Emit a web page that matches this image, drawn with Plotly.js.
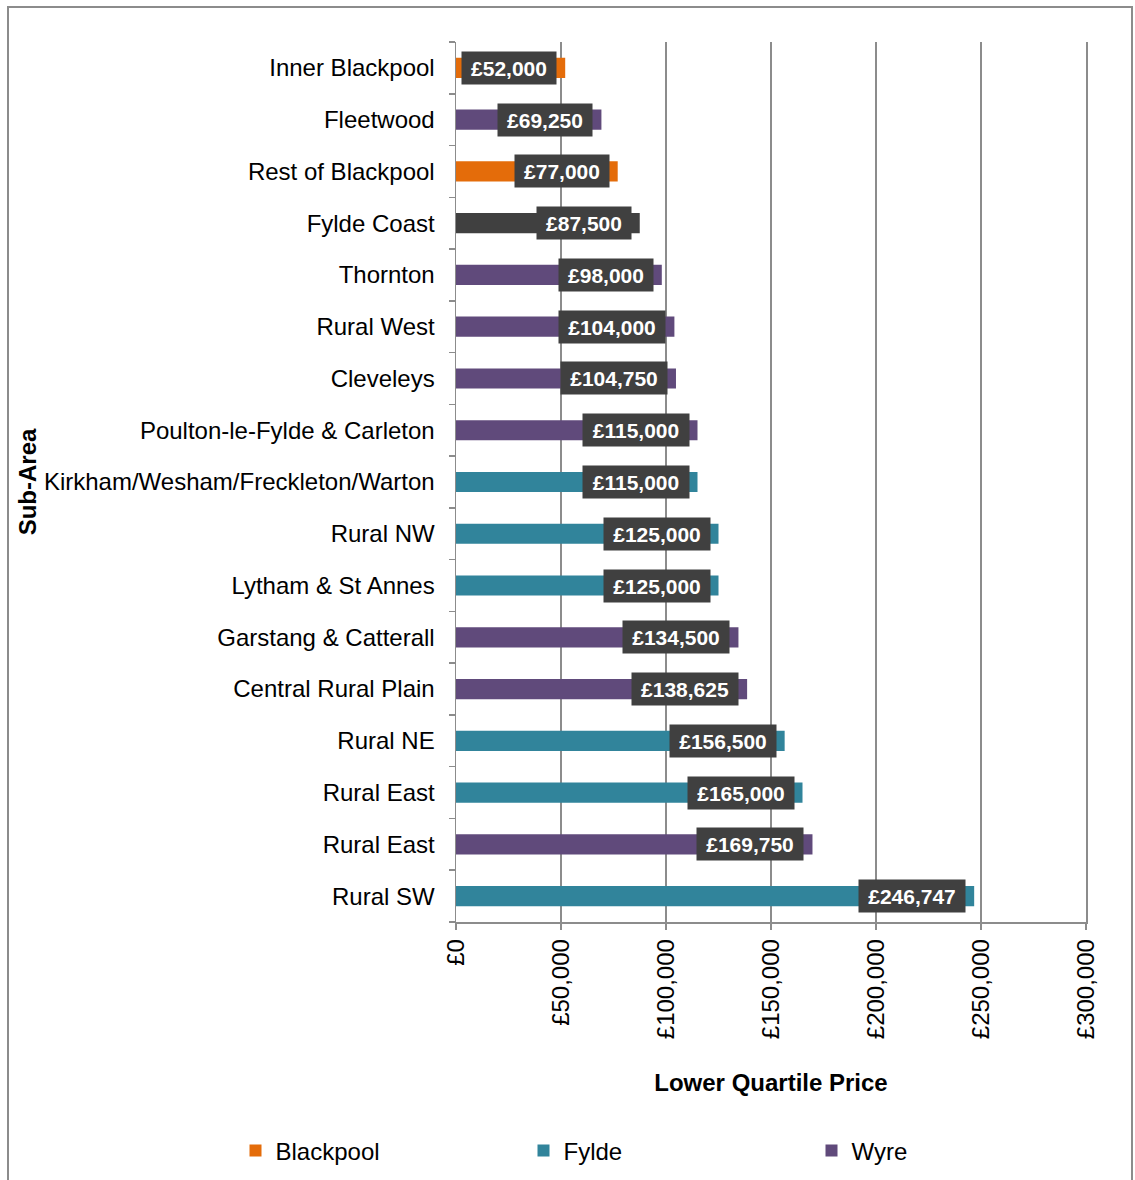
<!DOCTYPE html>
<html>
<head>
<meta charset="utf-8">
<script src="https://cdn.plot.ly/plotly-3.0.1.min.js"></script>
<style>
  html, body { margin: 0; padding: 0; background: #ffffff; }
  #wrap { position: relative; width: 1135px; height: 1180px; overflow: hidden; }
  #chart { position: absolute; left: 0; top: 0; width: 1135px; height: 1180px; }
  #frame { position: absolute; left: 7px; top: 6px; width: 1126px; height: 1200px;
           border: 2px solid #8c8c8c; box-sizing: border-box; pointer-events: none; }
</style>
</head>
<body>
<div id="wrap">
  <div id="chart"></div>
  <div id="frame"></div>
</div>
<script>
// ---- Data (top to bottom as in the reference) ----
var categories = [
  "Inner Blackpool", "Fleetwood", "Rest of Blackpool", "Fylde Coast", "Thornton",
  "Rural West", "Cleveleys", "Poulton-le-Fylde & Carleton",
  "Kirkham/Wesham/Freckleton/Warton", "Rural NW", "Lytham & St Annes",
  "Garstang & Catterall", "Central Rural Plain", "Rural NE", "Rural East",
  "Rural East", "Rural SW"
];
var districts = [
  "Blackpool", "Wyre", "Blackpool", "Fylde Coast", "Wyre",
  "Wyre", "Wyre", "Wyre",
  "Fylde", "Fylde", "Fylde",
  "Wyre", "Wyre", "Fylde", "Fylde",
  "Wyre", "Fylde"
];
var prices = [
  52000, 69250, 77000, 87500, 98000,
  104000, 104750, 115000,
  115000, 125000, 125000,
  134500, 138625, 156500, 165000,
  169750, 246747
];
var xTickVals = [0, 50000, 100000, 150000, 200000, 250000, 300000];
var xTickText = ["£0", "£50,000", "£100,000", "£150,000", "£200,000", "£250,000", "£300,000"];

var groups = ["Blackpool", "Fylde", "Wyre", "Fylde Coast"];
var groupColors = {
  "Blackpool": "#E46C0A",
  "Fylde": "#31849B",
  "Wyre": "#604A7B",
  "Fylde Coast": "#404040"
};

var FONT = "Liberation Sans, Arial, Helvetica, sans-serif";
var GRID = "#8c8c8c";
var BAR_WIDTH = 0.39;

var idx = categories.map(function (_, i) { return i; });

var traces = groups.map(function (g) {
  var xs = [], ys = [];
  idx.forEach(function (i) {
    if (districts[i] === g) { xs.push(prices[i]); ys.push(i); }
  });
  return {
    type: "bar",
    orientation: "h",
    name: g,
    x: xs,
    y: ys,
    width: BAR_WIDTH,
    marker: { color: groupColors[g], line: { width: 0 } },
    showlegend: g !== "Fylde Coast",
    hoverinfo: "skip"
  };
});

function fmt(v) {
  return "£" + String(v).replace(/\B(?=(\d{3})+(?!\d))/g, ",");
}

var annotations = idx.map(function (i) {
  var t = fmt(prices[i]);
  return {
    x: prices[i], y: i, xref: "x", yref: "y",
    text: "<b>" + t + "</b>",
    showarrow: false,
    xanchor: "right", yanchor: "middle",
    xshift: -8,
    bgcolor: "#404040",
    borderpad: 3,
    width: 12 * t.length + 4,
    height: 26,
    font: { family: FONT, size: 21, color: "#ffffff" }
  };
});

var boundaries = [];
for (var b = 0; b <= categories.length; b++) boundaries.push(b - 0.5);

var layout = {
  width: 1135,
  height: 1180,
  margin: { l: 456, r: 49, t: 42, b: 258, autoexpand: false },
  paper_bgcolor: "rgba(0,0,0,0)",
  plot_bgcolor: "#ffffff",
  font: { family: FONT, size: 24, color: "#000000" },
  barmode: "overlay",
  showlegend: true,
  legend: {
    orientation: "h",
    x: -0.35, xanchor: "left",
    y: -0.26, yanchor: "middle",
    entrywidth: 243,
    font: { family: FONT, size: 24, color: "#000000" },
    bgcolor: "rgba(0,0,0,0)"
  },
  xaxis: {
    range: [0, 300000],
    tickmode: "array",
    tickvals: xTickVals,
    ticktext: xTickText,
    tickangle: -90,
    ticks: "outside",
    ticklen: 6,
    tickwidth: 1.5,
    tickcolor: GRID,
    showgrid: true,
    gridcolor: GRID,
    gridwidth: 1.5,
    showline: true,
    linecolor: GRID,
    linewidth: 1.5,
    zeroline: false,
    tickfont: { family: FONT, size: 24, color: "#000000" },
    title: {
      text: "<b>Lower Quartile Price</b>",
      font: { family: FONT, size: 24, color: "#000000" },
      standoff: 36
    },
    automargin: false,
    fixedrange: true
  },
  yaxis: {
    range: [categories.length - 0.5, -0.5],
    tickmode: "array",
    tickvals: idx,
    ticktext: categories,
    ticks: "",
    ticklabelstandoff: 15,
    showgrid: false,
    showline: true,
    mirror: true,
    linecolor: GRID,
    linewidth: 1.5,
    zeroline: false,
    minor: {
      tickmode: "array",
      tickvals: boundaries,
      ticks: "outside",
      ticklen: 6,
      tickwidth: 1.5,
      tickcolor: GRID,
      showgrid: false
    },
    tickfont: { family: FONT, size: 24, color: "#000000" },
    title: {
      text: "<b>Sub-Area</b>",
      font: { family: FONT, size: 24, color: "#000000" },
      standoff: 0
    },
    automargin: false,
    fixedrange: true
  },
  annotations: annotations
};

Plotly.newPlot("chart", traces, layout, { displayModeBar: false, staticPlot: true });
</script>
</body>
</html>
